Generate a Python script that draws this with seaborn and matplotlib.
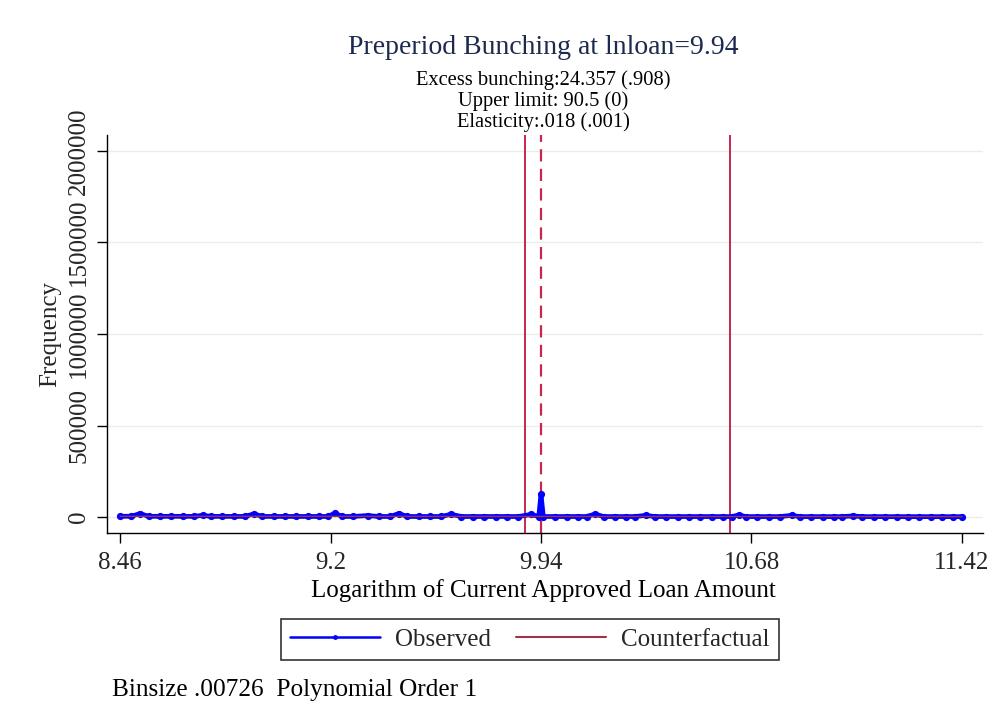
import matplotlib
matplotlib.use("Agg")
import matplotlib.pyplot as plt
from matplotlib.lines import Line2D
import seaborn as sns
import pandas as pd

# Observed bin frequencies (bin centre on log loan scale, count)
obs_bin = [8.46, 8.50, 8.53, 8.56, 8.60, 8.64, 8.68, 8.72, 8.75, 8.78, 8.82, 8.86,
           8.90, 8.93, 8.96, 9.00, 9.04, 9.08, 9.12, 9.16, 9.19, 9.216, 9.24, 9.28,
           9.33, 9.37, 9.41, 9.44, 9.47, 9.51, 9.55, 9.59, 9.623, 9.66, 9.70, 9.74,
           9.78, 9.82, 9.86, 9.905, 9.932, 9.94, 9.948, 9.99, 10.03, 10.07, 10.10,
           10.13, 10.16, 10.20, 10.24, 10.27, 10.309, 10.34, 10.38, 10.42, 10.46,
           10.50, 10.54, 10.58, 10.61, 10.636, 10.66, 10.70, 10.74, 10.78, 10.822,
           10.85, 10.89, 10.93, 10.97, 11.00, 11.036, 11.07, 11.11, 11.15, 11.19,
           11.23, 11.27, 11.31, 11.35, 11.39, 11.42]
obs_freq = [4200, 3900, 19000, 3800, 3700, 3600, 3700, 3500, 9000, 3400, 3300, 3300,
            3200, 17000, 3200, 3100, 3100, 3000, 3000, 3000, 3000, 21000, 3000, 2900,
            8000, 2900, 2900, 19000, 2800, 2800, 2800, 2800, 15000, 2700, 2700, 2700,
            2700, 2700, 2600, 14000, 2700, 125000, 2700, 2600, 2600, 2600, 2600,
            16000, 2500, 2500, 2500, 2500, 9000, 2500, 2400, 2400, 2400,
            2400, 2400, 2400, 2300, 11000, 2300, 2300, 2300, 2300, 9000,
            2200, 2200, 2200, 2200, 2200, 6000, 2100, 2100, 2100, 2100,
            2000, 2000, 2000, 2000, 2000, 2000]

# Linear counterfactual fit
cf_bin = [8.46, 9.94, 11.42]
cf_freq = [3900, 2900, 1900]

# Bunching window and threshold
lower_bound = 9.884
upper_bound = 10.604
threshold = 9.94

x_ticks = [8.46, 9.2, 9.94, 10.68, 11.42]
x_ticklabels = ["8.46", "9.2", "9.94", "10.68", "11.42"]
y_ticks = [0, 500000, 1000000, 1500000, 2000000]
y_ticklabels = ["0", "500000", "1000000", "1500000", "2000000"]

title = "Preperiod Bunching at lnloan=9.94"
subtitle_lines = ["Excess bunching:24.357 (.908)", "Upper limit: 90.5 (0)",
                  "Elasticity:.018 (.001)"]
note = "Binsize .00726  Polynomial Order 1"

sns.set_theme(style="white")
plt.rcParams["font.family"] = ["Liberation Serif", "DejaVu Serif"]

W, H = 997, 728
fig = plt.figure(figsize=(W / 100, H / 100), dpi=100)
fig.patch.set_facecolor("white")
L, R, T, B = 107, 983, 135, 533
ax = fig.add_axes([L / W, 1 - B / H, (R - L) / W, (B - T) / H])
ax.set_facecolor("white")

blue = "#0000ff"
cf_red = "#9e3348"
vline_red = "#c8264f"

obs = pd.DataFrame({"bin": obs_bin, "freq": obs_freq})
cf = pd.DataFrame({"bin": cf_bin, "freq": cf_freq})

sns.lineplot(data=obs, x="bin", y="freq", ax=ax, color=blue, linewidth=3.4,
             marker="o", markersize=5.2, markeredgewidth=0, zorder=3)
sns.lineplot(data=cf, x="bin", y="freq", ax=ax, color=cf_red, linewidth=1.0,
             zorder=4)

ax.axvline(lower_bound, color=vline_red, linewidth=1.4, zorder=2)
ax.axvline(upper_bound, color=vline_red, linewidth=1.4, zorder=2)
ax.axvline(threshold, color=vline_red, linewidth=1.6, linestyle=(0, (5.5, 3.3)),
           zorder=2)

ax.set_xlim(8.414, 11.494)
ax.set_ylim(-87400, 2087400)
ax.set_xticks(x_ticks)
ax.set_xticklabels(x_ticklabels, fontsize=18)
ax.set_yticks(y_ticks)
ax.set_yticklabels(y_ticklabels, fontsize=18, rotation=90, va="center")
ax.tick_params(axis="x", direction="out", length=7, width=1, color="black", pad=7,
               bottom=True)
ax.tick_params(axis="y", direction="out", length=7, width=1, color="black", pad=5,
               left=True)
ax.yaxis.grid(True, color="#ececec", linewidth=1)
ax.xaxis.grid(False)
ax.set_axisbelow(True)

for side in ["top", "right"]:
    ax.spines[side].set_visible(False)
for side in ["left", "bottom"]:
    ax.spines[side].set_color("black")
    ax.spines[side].set_linewidth(1.0)

ax.set_xlabel("")
ax.set_ylabel("Frequency", fontsize=18)
ax.yaxis.set_label_coords(-0.065, 0.5)
ax.yaxis.label.set_va("center")

fig.text(543 / W, 1 - 591 / H, "Logarithm of Current Approved Loan Amount",
         ha="center", va="center", fontsize=18, color="black")
fig.text(543 / W, 1 - 47 / H, title, ha="center", va="center", fontsize=20,
         color="#1c2a4e")
for i, line in enumerate(subtitle_lines):
    fig.text(543 / W, 1 - (80 + 21 * i) / H, line, ha="center", va="center",
             fontsize=14.8, color="black")
fig.text(112 / W, 1 - 690 / H, note, ha="left", va="center", fontsize=18.2,
         color="black")

handles = [
    Line2D([0], [0], color=blue, linewidth=1.8, marker="o", markersize=3.5,
           markeredgewidth=0),
    Line2D([0], [0], color=cf_red, linewidth=1.5),
]
leg = fig.legend(handles, ["Observed", "Counterfactual"], loc="center",
                 bbox_to_anchor=(530 / W, 1 - 639.5 / H), ncol=2, fontsize=18,
                 frameon=True, fancybox=False, handlelength=3.6,
                 handletextpad=0.6, columnspacing=1.0, borderpad=0.38,
                 numpoints=1)
leg.get_frame().set_edgecolor("black")
leg.get_frame().set_linewidth(1.2)

fig.savefig("out.png", dpi=100, facecolor="white")
